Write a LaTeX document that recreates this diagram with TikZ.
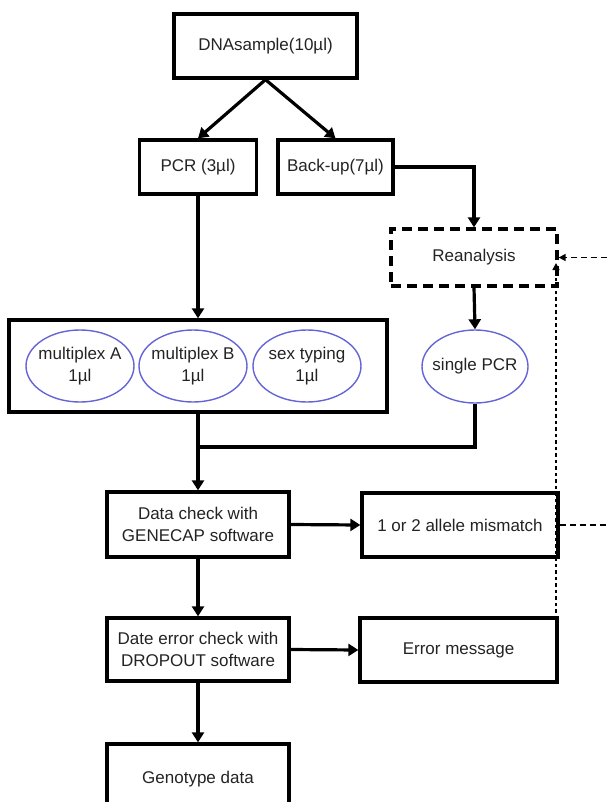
\documentclass[tikz,border=0pt]{standalone}
\usepackage{fontspec}
\setmainfont{Liberation Sans}
\usetikzlibrary{arrows.meta,shapes.geometric,calc}
\definecolor{ellblue}{RGB}{100,100,215}
\definecolor{txt}{RGB}{35,35,35}
\begin{document}
\begin{tikzpicture}[x=1pt,y=-1pt,
  lbl/.style={text=txt,font=\fontsize{17}{22}\selectfont,align=center,inner sep=0pt},
  box/.style={lbl,draw,line width=3.3pt},
  dbox/.style={box,dash pattern=on 10pt off 6pt},
  ell/.style={lbl,ellipse,draw=ellblue,line width=1.4pt,inner xsep=-40pt,inner ysep=-25pt},
  ln/.style={line width=3.2pt},
  arr/.style={ln,-{Triangle[length=10pt,width=12pt]}},
  dotv/.style={line width=1.5pt,dash pattern=on 3.5pt off 3pt},
  doth/.style={line width=1.5pt,dash pattern=on 6pt off 4pt},
  stip/.style={-{Triangle[length=7pt,width=7pt]}}]
\useasboundingbox (0,0) rectangle (607,802);
\clip (0,0) rectangle (607,802);
% nodes
\node[box,minimum width=183pt,minimum height=64pt] (dna) at (265.5,46) {DNAsample(10µl)};
\node[box,minimum width=117pt,minimum height=54pt] (pcr) at (198,167) {PCR (3µl)};
\node[box,minimum width=115pt,minimum height=54pt] (backup) at (335.5,167) {Back-up(7µl)};
\node[dbox,minimum width=166pt,minimum height=57pt] (rean) at (474,257.5) {Reanalysis};
\node[box,minimum width=378pt,minimum height=92pt] (big) at (198,366) {};
\node[ell,minimum width=108pt,minimum height=72pt] (ellA) at (80,366) {multiplex A\\1µl};
\node[ell,minimum width=108pt,minimum height=72pt] (ellB) at (193,366) {multiplex B\\1µl};
\node[ell,minimum width=108pt,minimum height=72pt] (ellS) at (307,366) {sex typing\\1µl};
\node[ell,minimum width=106pt,minimum height=73pt] (single) at (475,366.5) {single PCR};
\node[box,minimum width=182pt,minimum height=65pt] (data) at (198,524.5) {Data check with\\GENECAP software};
\node[box,minimum width=196pt,minimum height=64pt] (mism) at (460,525) {1 or 2 allele mismatch};
\node[box,minimum width=182pt,minimum height=63pt] (drop) at (198,649.5) {Date error check with\\DROPOUT software};
\node[box,minimum width=197pt,minimum height=64pt] (err) at (458.5,650) {Error message};
\node[box,minimum width=182pt,minimum height=80pt,text height=12pt] (geno) at (198,784) {\raisebox{7pt}{Genotype data}};
% coordinates
\coordinate (j) at (198,447);
\coordinate (dtop) at (556,263);
\coordinate (dbot) at (556,619);
\coordinate (rin) at (607,257.5);
\coordinate (mout) at (607,525);
% connectors
\draw[arr] (dna.south) -- (pcr.north);
\draw[arr] (dna.south) -- (backup.north);
\draw[arr] (backup.east) -| (rean.north);
\draw[arr] (pcr.south) -- (big.north);
\draw[arr] (rean.south) -- (single.north);
\draw[ln] (single.south) |- (j);
\draw[arr] (big.south) -- (data.north);
\draw[arr] (data.east) -- (mism.west);
\draw[arr] (data.south) -- (drop.north);
\draw[arr] (drop.east) -- (err.west);
\draw[arr] (drop.south) -- (geno.north);
\draw[dotv,stip] (dbot) -- (dtop);
\draw[doth,stip] (rin) -- (rean.east);
\draw[doth] (mism.east) -- (mout);
\end{tikzpicture}
\end{document}
